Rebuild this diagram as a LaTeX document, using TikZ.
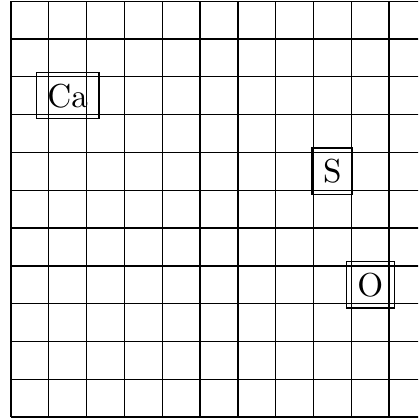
\documentclass[tikz,border=0pt]{standalone}
\usepackage{tikz}

\begin{document}
\begin{tikzpicture}[x=0.4cm, y=0.4cm, every node/.style={font=\normalsize}, atom/.style={draw}]
  \clip (-0.29,-0.05) rectangle (10.77,11.03);
  \draw[step=0.4cm] (0,0) grid (11,11);

  \node[atom] (ca) at (1.5,8.5) {Ca};
  \node[atom] (s) at (8.5,6.5) {S};
  \node[atom] (o) at (9.5,3.5) {O};
\end{tikzpicture}
\end{document}
